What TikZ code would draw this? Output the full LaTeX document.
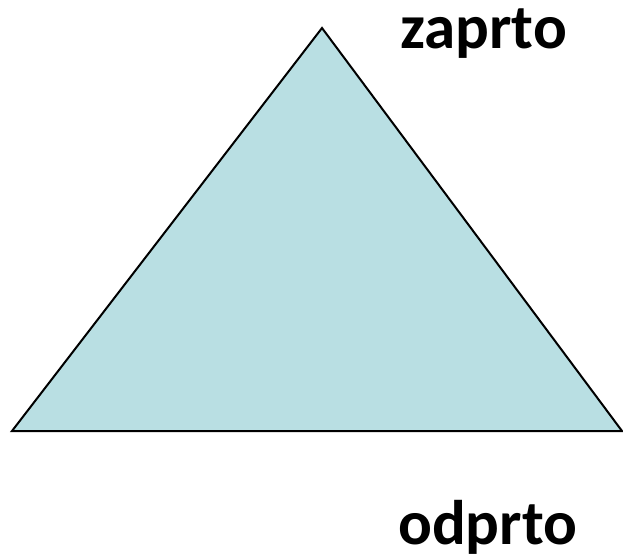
\documentclass[tikz,border=0pt]{standalone}
\usepackage{fontspec}
\setmainfont{Carlito}
\definecolor{trifill}{HTML}{B9DFE3}
\begin{document}
\begin{tikzpicture}[x=1pt,y=-1pt,
  lbl/.style={anchor=base west,inner sep=0pt,font=\fontsize{63}{63}\selectfont\bfseries}]
\useasboundingbox (0,0) rectangle (623,557);
\coordinate (apex) at (322,28);
\coordinate (bl) at (12,431);
\coordinate (br) at (622,431);
\draw[line width=2pt,fill=trifill,line join=miter] (apex) -- (br) -- (bl) -- cycle;
\node[lbl] (zaprto) at (400,48) {zaprto};
\node[lbl] (odprto) at (398,544) {odprto};
\end{tikzpicture}
\end{document}
